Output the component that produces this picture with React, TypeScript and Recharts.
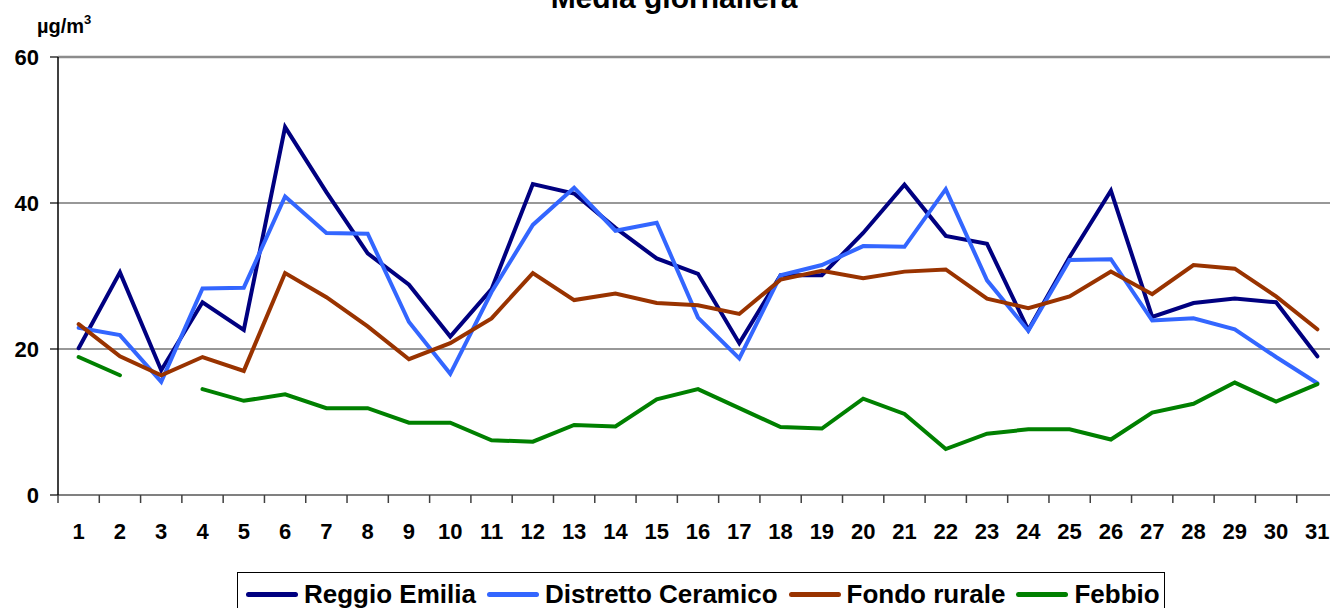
import { LineChart, Line, XAxis, YAxis, CartesianGrid, ReferenceLine } from "recharts"

const days = [1, 2, 3, 4, 5, 6, 7, 8, 9, 10, 11, 12, 13, 14, 15, 16, 17, 18, 19, 20, 21, 22, 23, 24, 25, 26, 27, 28, 29, 30, 31]
const reggioEmilia = [20.1, 30.5, 17.1, 26.4, 22.6, 50.4, 41.5, 33.1, 28.8, 21.7, 28.2, 42.6, 41.3, 36.6, 32.4, 30.3, 20.8, 30.1, 30.1, 35.9, 42.5, 35.5, 34.4, 22.6, 32.6, 41.7, 24.4, 26.3, 26.9, 26.4, 19.0]
const distrettoCeramico = [22.9, 21.9, 15.5, 28.3, 28.4, 40.9, 35.9, 35.8, 23.7, 16.6, 27.8, 37.0, 42.1, 36.2, 37.3, 24.3, 18.7, 30.1, 31.5, 34.1, 34.0, 41.9, 29.4, 22.5, 32.2, 32.3, 23.9, 24.2, 22.7, 18.9, 15.3]
const fondoRurale = [23.4, 19.0, 16.4, 18.9, 17.0, 30.4, 27.1, 23.1, 18.6, 20.8, 24.2, 30.4, 26.7, 27.6, 26.3, 26.0, 24.8, 29.5, 30.7, 29.7, 30.6, 30.9, 26.9, 25.6, 27.2, 30.6, 27.5, 31.5, 31.0, 27.2, 22.7]
const febbio = [18.9, 16.4, null, 14.5, 12.9, 13.8, 11.9, 11.9, 9.9, 9.9, 7.5, 7.3, 9.6, 9.4, 13.1, 14.5, 11.9, 9.3, 9.1, 13.2, 11.1, 6.3, 8.4, 9.0, 9.0, 7.6, 11.3, 12.5, 15.4, 12.8, 15.2]
const yTicks = [0, 20, 40, 60]

const series = [
  { key: "reggio", name: "Reggio Emilia", color: "#000080" },
  { key: "ceramico", name: "Distretto Ceramico", color: "#3366FF" },
  { key: "rurale", name: "Fondo rurale", color: "#993300" },
  { key: "febbio", name: "Febbio", color: "#008000" },
]

const data = days.map((d, i) => ({
  day: d,
  reggio: reggioEmilia[i],
  ceramico: distrettoCeramico[i],
  rurale: fondoRurale[i],
  febbio: febbio[i],
}))

// labels on the days, tick marks between them
const xTicks = [...days.map((d) => d - 0.5), days.length + 0.5, ...days].sort((a, b) => a - b)

const FONT = "'Liberation Sans', Arial, sans-serif"

function DayTick(props: any) {
  const { x, y, payload } = props
  const v = payload.value
  if (Number.isInteger(v)) {
    return (
      <text x={x} y={y + 44} textAnchor="middle" fontFamily={FONT} fontWeight="bold" fontSize={22} fill="#000">
        {v}
      </text>
    )
  }
  return <line x1={x} x2={x} y1={y} y2={y + 8} stroke="#404040" strokeWidth={1.5} />
}

export default function App() {
  return (
    <div style={{ position: "absolute", left: 0, top: 0, width: 1330, height: 608, overflow: "hidden", background: "#fff" }}>
      <LineChart width={1338} height={608} data={data} margin={{ top: 57, right: 0, bottom: 73, left: 8 }}>
        <CartesianGrid vertical={false} stroke="#333" strokeWidth={1.2} />
        <ReferenceLine y={60} stroke="#8c8c8c" strokeWidth={2.5} />
        <XAxis
          dataKey="day"
          type="number"
          domain={[0.5, 31.5]}
          ticks={xTicks}
          interval={0}
          height={40}
          tickLine={false}
          tickSize={0}
          tickMargin={0}
          axisLine={{ stroke: "#808080", strokeWidth: 2 }}
          tick={(p: any) => <DayTick {...p} />}
        />
        <YAxis
          domain={[0, 60]}
          ticks={yTicks}
          width={50}
          tickSize={8}
          tickMargin={11}
          axisLine={{ stroke: "#000", strokeWidth: 1.5 }}
          tickLine={{ stroke: "#000", strokeWidth: 1.2 }}
          tick={{ fill: "#000", fontFamily: FONT, fontWeight: "bold", fontSize: 22 }}
        />
        {series.map((s) => (
          <Line
            key={s.key}
            dataKey={s.key}
            name={s.name}
            type="linear"
            stroke={s.color}
            strokeWidth={4}
            strokeLinecap="round"
            dot={false}
            activeDot={false}
            isAnimationActive={false}
          />
        ))}
      </LineChart>

      <svg width={1330} height={608} style={{ position: "absolute", left: 0, top: 0, pointerEvents: "none" }}>
        <text x={674} y={8} textAnchor="middle" fontFamily={FONT} fontWeight="bold" fontSize={30} fill="#000">
          Media giornaliera
        </text>
        <text x={37} y={33} fontFamily={FONT} fontWeight="bold" fontSize={20} fill="#000">
          µg/m
          <tspan fontSize={13} dy={-9}>3</tspan>
        </text>
      </svg>

      <div
        style={{
          position: "absolute",
          left: 237,
          top: 572,
          width: 928,
          height: 60,
          border: "1px solid #000",
          boxSizing: "border-box",
          display: "flex",
          flexWrap: "nowrap",
          alignItems: "flex-start",
          paddingLeft: 8,
          paddingTop: 9,
          fontFamily: FONT,
          fontWeight: "bold",
          fontSize: 26,
          color: "#000",
          lineHeight: "24px",
          whiteSpace: "nowrap",
        }}
      >
        {series.map((s) => (
          <div key={s.key} style={{ display: "flex", alignItems: "center", marginRight: 11, flexShrink: 0 }}>
            <span style={{ display: "inline-block", width: 52, height: 5, borderRadius: 3, background: s.color, marginRight: 6 }} />
            <span>{s.name}</span>
          </div>
        ))}
      </div>
    </div>
  )
}
